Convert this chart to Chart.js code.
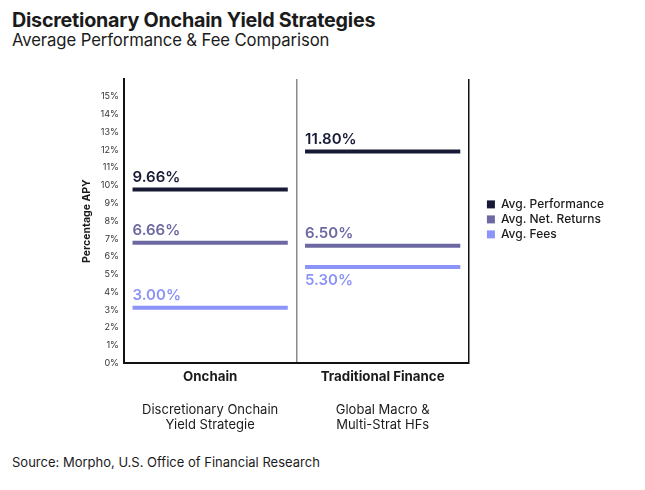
<!DOCTYPE html>
<html>
<head>
<meta charset="utf-8">
<script src="https://cdn.jsdelivr.net/npm/chart.js@4"></script>
<style>
  html, body { margin: 0; padding: 0; background: #fff; }
  body { width: 645px; height: 490px; position: relative; overflow: hidden; font-family: "Inter", "Roboto", sans-serif; color: #1b1b1b; }
  #title { position: absolute; left: 12px; top: 8px; font-size: 19.75px; font-weight: 700; letter-spacing: -0.25px; }
  #subtitle { position: absolute; left: 12px; top: 30px; font-size: 16.7px; font-weight: 400; letter-spacing: -0.1px; }
  #source { position: absolute; left: 12px; top: 454px; font-size: 13px; font-weight: 400; }
  #wrap { position: absolute; left: 0; top: 60px; width: 645px; height: 385px; }
</style>
</head>
<body>
<div id="title">Discretionary Onchain Yield Strategies</div>
<div id="subtitle">Average Performance &amp; Fee Comparison</div>
<div id="wrap"><canvas id="chart"></canvas></div>
<div id="source">Source: Morpho, U.S. Office of Financial Research</div>
<script>
(() => {
  "use strict";

// Data
const categories = ["Onchain", "Traditional Finance"];
const subLabels = [["Discretionary Onchain", "Yield Strategie"], ["Global Macro &", "Multi-Strat HFs"]];
const seriesNames = ["Avg. Performance", "Avg. Net. Returns", "Avg. Fees"];
const avgPerformance = [9.66, 11.80];
const avgNetReturns = [6.66, 6.50];
const avgFees = [3.00, 5.30];
const yTicks = [0, 1, 2, 3, 4, 5, 6, 7, 8, 9, 10, 11, 12, 13, 14, 15];

const colors = ["#171a35", "#6c69a2", "#8d94f7"];
const FONT = "Inter, Roboto, sans-serif";

const pct = (n) => Number(n).toFixed(2) + "%";

// floating bar with zero length + minBarLength -> thin horizontal line at the value
const mkSet = (label, values, color) => ({
  label,
  data: values.map(v => [v, v]),
  backgroundColor: color,
  borderWidth: 0,
  minBarLength: 4,
  grouped: false,
  barPercentage: 0.9,
  categoryPercentage: 1
});

// value labels above each line (below when the line above is too close)
const valueLabels = {
  id: "valueLabels",
  afterDatasetsDraw(chart) {
    const { ctx } = chart;
    const sets = chart.data.datasets;
    ctx.save();
    ctx.font = `600 15px ${FONT}`;
    ctx.textAlign = "left";
    sets.forEach((ds, di) => {
      const meta = chart.getDatasetMeta(di);
      meta.data.forEach((el, i) => {
        const v = ds.data[i][1];
        const top = Math.min(el.y, el.base);
        const bottom = Math.max(el.y, el.base);
        const left = el.x - el.width / 2;
        const prev = di > 0 ? sets[di - 1].data[i][1] : null;
        const below = prev !== null && prev - v < 1.5;
        ctx.fillStyle = ds.backgroundColor;
        if (below) {
          ctx.textBaseline = "top";
          ctx.fillText(pct(v), left, bottom + 4);
        } else {
          ctx.textBaseline = "bottom";
          ctx.fillText(pct(v), left, top - 3);
        }
      });
    });
    ctx.restore();
  }
};

const ctx = document.getElementById("chart");
new Chart(ctx, {
  type: "bar",
  data: {
    labels: categories,
    datasets: [
      mkSet(seriesNames[0], avgPerformance, colors[0]),
      mkSet(seriesNames[1], avgNetReturns, colors[1]),
      mkSet(seriesNames[2], avgFees, colors[2])
    ]
  },
  options: {
    responsive: true,
    maintainAspectRatio: false,
    animation: false,
    layout: { padding: { left: 81, right: 31, top: 19, bottom: 0 } },
    plugins: {
      legend: {
        position: "right",
        align: "start",
        maxWidth: 200,
        title: { display: true, text: "", padding: { top: 102, bottom: 0 } },
        labels: {
          boxWidth: 8,
          boxHeight: 8,
          padding: 3,
          color: "#1b1b1b",
          font: { family: FONT, size: 12, weight: "500" }
        }
      },
      tooltip: { enabled: false }
    },
    scales: {
      x: {
        offset: true,
        grid: {
          offset: true,
          drawTicks: false,
          lineWidth: 1.5,
          color: (c) => (c.index === 1 ? "#8a8a8a" : "#111")
        },
        border: { display: true, color: "#111", width: 2 },
        ticks: {
          padding: 6,
          color: "#1b1b1b",
          font: { family: FONT, size: 13.3, weight: "700" }
        }
      },
      x2: {
        type: "category",
        labels: subLabels,
        position: "bottom",
        offset: true,
        grid: { display: false, drawTicks: false },
        border: { display: false },
        ticks: {
          padding: 12,
          color: "#1b1b1b",
          font: { family: FONT, size: 13, weight: "400", lineHeight: 1.15 }
        }
      },
      y: {
        min: 0,
        max: 16,
        afterBuildTicks: (axis) => { axis.ticks = yTicks.map(v => ({ value: v })); },
        grid: { display: false, drawTicks: false },
        border: { display: true, color: "#111", width: 2 },
        ticks: {
          padding: 5,
          color: "#333",
          font: { family: FONT, size: 9 },
          callback: (v) => v + "%"
        },
        title: {
          display: true,
          text: "Percentage APY",
          color: "#1b1b1b",
          padding: { top: 0, bottom: 2 },
          font: { family: FONT, size: 10.5, weight: "700" }
        }
      },
      // empty spacer between plot and legend
      gap: {
        type: "linear",
        position: "right",
        grid: { display: false, drawTicks: false },
        border: { display: false },
        ticks: { display: false },
        afterFit: (axis) => { axis.width = 15; }
      }
    }
  },
  plugins: [valueLabels]
});
})();
</script>
</body>
</html>
